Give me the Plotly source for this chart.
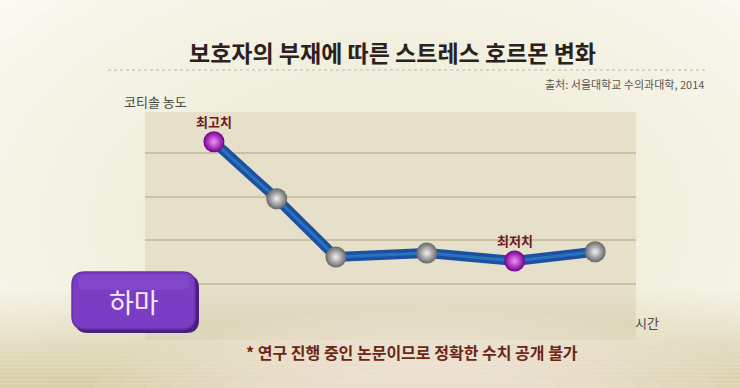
import plotly.graph_objects as go

# ---------------- data ----------------
time_pos = [0.0, 1.03, 2.0, 3.49, 4.93, 6.25]          # relative time positions
cortisol = [4.25, 2.95, 1.62, 1.71, 1.53, 1.74]          # relative cortisol level (no exact values published)
point_kind = ["max", "mid", "mid", "mid", "min", "mid"]
grid_levels = [1, 2, 3, 4]

title_text = "보호자의 부재에 따른 스트레스 호르몬 변화"
source_text = "출처: 서울대학교 수의과대학, 2014"
y_label = "코티솔 농도"
x_label = "시간"
max_label = "최고치"
min_label = "최저치"
animal = "하마"
footnote = "* 연구 진행 중인 논문이므로 정확한 수치 공개 불가"

# ---------------- layout geometry (pixels) ----------------
W, H = 740, 388
L, R, T, B = 145, 636, 112, 328
FONT = "Noto Sans CJK KR"


def px(x):
    return (x - L) / (R - L)


def py(y):
    return (B - y) / (B - T)


center_col = {"max": "#f590ff", "min": "#f590ff", "mid": "#f2f2f2"}
edge_col = {"max": "#70008a", "min": "#70008a", "mid": "#666666"}

fig = go.Figure()

# line (dark body + lighter core)
fig.add_trace(go.Scatter(x=time_pos, y=cortisol, mode="lines",
                         line=dict(color="#1b52a0", width=10), hoverinfo="skip"))
fig.add_trace(go.Scatter(x=time_pos, y=cortisol, mode="lines",
                         line=dict(color="#2d70c0", width=3), hoverinfo="skip"))
# spheres (radial gradient: gradient.color at centre, marker.color at the rim)
fig.add_trace(go.Scatter(
    x=time_pos, y=cortisol, mode="markers",
    marker=dict(size=21,
                color=[edge_col[k] for k in point_kind],
                gradient=dict(type="radial", color=[center_col[k] for k in point_kind]),
                line=dict(width=0)),
    hoverinfo="skip"))

shapes = []
# soft cream haze around the chart
cx, cy = 390, 220
for i in range(12):
    f = 1 - i / 12
    rx, ry = 200 + 300 * f, 120 + 200 * f
    shapes.append(dict(type="circle", xref="paper", yref="paper",
                       x0=px(cx - rx), x1=px(cx + rx), y0=py(cy + ry), y1=py(cy - ry),
                       fillcolor="#efe8d4", opacity=0.06, line=dict(width=0), layer="below"))
# panel
shapes.append(dict(type="rect", xref="paper", yref="paper",
                   x0=px(L), x1=px(R), y0=py(340), y1=py(T),
                   fillcolor="#e6dfc9", line=dict(width=0), layer="below"))
# floor bands
n = 24
for i in range(n):
    y0 = 294 + i * (H + 4 - 294) / n
    y1 = 294 + (i + 1) * (H + 4 - 294) / n
    op = min(0.85, 0.05 + i * 0.04)
    shapes.append(dict(type="rect", xref="paper", yref="paper",
                       x0=px(-10), x1=px(W + 10), y0=py(y1), y1=py(y0),
                       fillcolor="rgb(212,201,160)", opacity=op, line=dict(width=0), layer="below"))
# soft floor highlight
fx, fy = 430, 400
for i in range(10):
    f = 1 - i / 10
    rx, ry = 80 + 260 * f, 30 + 60 * f
    shapes.append(dict(type="circle", xref="paper", yref="paper",
                       x0=px(fx - rx), x1=px(fx + rx), y0=py(fy + ry), y1=py(fy - ry),
                       fillcolor="#fbf8ee", opacity=0.08, line=dict(width=0), layer="below"))
# dotted rule under the title
shapes.append(dict(type="line", xref="paper", yref="paper",
                   x0=px(108), x1=px(705), y0=py(70), y1=py(70),
                   line=dict(color="#d2cbba", width=1.6, dash="dot"), layer="below"))


def rrect(x0, y0, x1, y1, r):
    return (f"M {px(x0 + r)} {py(y0)} L {px(x1 - r)} {py(y0)} Q {px(x1)} {py(y0)} {px(x1)} {py(y0 + r)} "
            f"L {px(x1)} {py(y1 - r)} Q {px(x1)} {py(y1)} {px(x1 - r)} {py(y1)} "
            f"L {px(x0 + r)} {py(y1)} Q {px(x0)} {py(y1)} {px(x0)} {py(y1 - r)} "
            f"L {px(x0)} {py(y0 + r)} Q {px(x0)} {py(y0)} {px(x0 + r)} {py(y0)} Z")


# button shadow + body + highlight
shapes.append(dict(type="path", xref="paper", yref="paper", path=rrect(75, 275, 199, 333, 13),
                   fillcolor="#4a1f80", line=dict(width=0), layer="above"))
shapes.append(dict(type="path", xref="paper", yref="paper", path=rrect(72, 272, 195, 329, 13),
                   fillcolor="#7a3dc4", line=dict(color="#6a30b0", width=1.5), layer="above"))
shapes.append(dict(type="path", xref="paper", yref="paper", path=rrect(78, 275, 189, 290, 7),
                   fillcolor="#8f55d6", opacity=0.4, line=dict(width=0), layer="above"))

annotations = [
    dict(text=title_text, xref="paper", yref="paper", x=px(392), y=py(52),
         showarrow=False, xanchor="center", yanchor="middle",
         font=dict(family=FONT, size=23, color="#2b211d", weight="bold")),
    dict(text=source_text, xref="paper", yref="paper", x=px(706), y=py(84),
         showarrow=False, xanchor="right", yanchor="middle",
         font=dict(family=FONT, size=11, color="#5a5550")),
    dict(text=y_label, xref="paper", yref="paper", x=px(122), y=py(101),
         showarrow=False, xanchor="left", yanchor="middle",
         font=dict(family=FONT, size=13, color="#4a4642")),
    dict(text=x_label, xref="paper", yref="paper", x=px(633), y=py(322),
         showarrow=False, xanchor="left", yanchor="middle",
         font=dict(family=FONT, size=13, color="#4a4642")),
    dict(text=animal, xref="paper", yref="paper", x=px(134), y=py(301),
         showarrow=False, xanchor="center", yanchor="middle",
         font=dict(family=FONT, size=27, color="#f5e8fc")),
    dict(text=footnote, xref="paper", yref="paper", x=px(412), y=py(352),
         showarrow=False, xanchor="center", yanchor="middle",
         font=dict(family=FONT, size=16, color="#6b2616", weight="bold")),
]
for k, x, y in zip(point_kind, time_pos, cortisol):
    if k in ("max", "min"):
        annotations.append(dict(text=max_label if k == "max" else min_label, x=x, y=y,
                                xref="x", yref="y", showarrow=False, yshift=20,
                                xanchor="center", yanchor="middle",
                                font=dict(family=FONT, size=13, color="#6b1a1e", weight="bold")))

fig.update_layout(
    width=W, height=H,
    margin=dict(l=L, r=W - R, t=T, b=H - B),
    paper_bgcolor="#fbf9f3",
    plot_bgcolor="rgba(0,0,0,0)",
    showlegend=False,
    shapes=shapes,
    annotations=annotations,
    xaxis=dict(range=[-1.13, 6.92], showgrid=False, zeroline=False, showticklabels=False,
               showline=False, fixedrange=True),
    yaxis=dict(range=[0, 4.93], tickvals=grid_levels, showgrid=True, gridcolor="#cbc2a5",
               gridwidth=1.6, zeroline=False, showticklabels=False, showline=False, fixedrange=True),
)

fig.write_html("out.html")
